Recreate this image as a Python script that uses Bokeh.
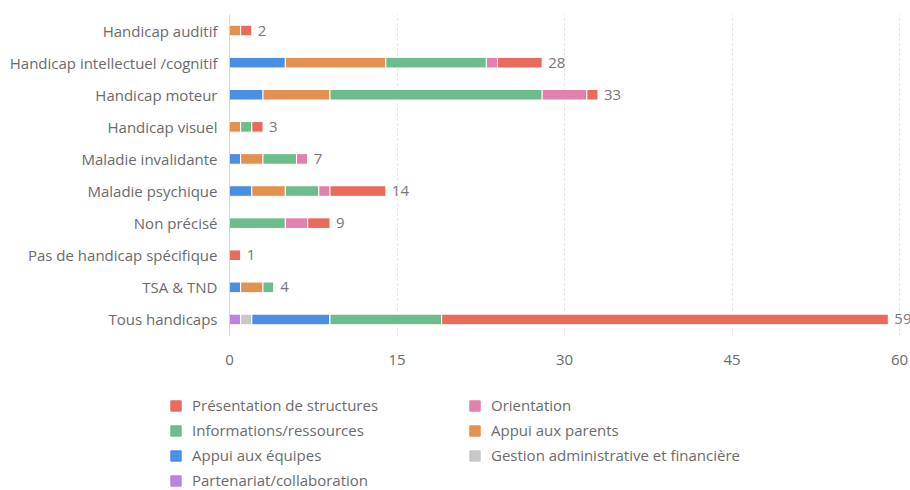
from bokeh.plotting import figure
from bokeh.layouts import column
from bokeh.models import ColumnDataSource, FactorRange, FixedTicker, Legend, LegendItem
from bokeh.core.properties import value
from bokeh.embed import file_html
from bokeh.resources import INLINE

categories = ["Handicap auditif", "Handicap intellectuel /cognitif", "Handicap moteur",
              "Handicap visuel", "Maladie invalidante", "Maladie psychique", "Non précisé",
              "Pas de handicap spécifique", "TSA & TND", "Tous handicaps"]
partenariat = [0, 0, 0, 0, 0, 0, 0, 0, 0, 1]
gestion = [0, 0, 0, 0, 0, 0, 0, 0, 0, 1]
appui_equipes = [0, 5, 3, 0, 1, 2, 0, 0, 1, 7]
appui_parents = [1, 9, 6, 1, 2, 3, 0, 0, 2, 0]
informations = [0, 9, 19, 1, 3, 3, 5, 0, 1, 10]
orientation = [0, 1, 4, 0, 1, 1, 2, 0, 0, 0]
presentation = [1, 4, 1, 1, 0, 5, 2, 1, 0, 40]
x_ticks = [0, 15, 30, 45, 60]

series_keys = ["partenariat", "gestion", "appui_equipes", "appui_parents",
               "informations", "orientation", "presentation"]
series_names = {
    "partenariat": "Partenariat/collaboration",
    "gestion": "Gestion administrative et financière",
    "appui_equipes": "Appui aux équipes",
    "appui_parents": "Appui aux parents",
    "informations": "Informations/ressources",
    "orientation": "Orientation",
    "presentation": "Présentation de structures",
}
series_colors = {
    "partenariat": "#BA84E0",
    "gestion": "#C8C8C8",
    "appui_equipes": "#4B8FE5",
    "appui_parents": "#E29150",
    "informations": "#6DBD8C",
    "orientation": "#E081AE",
    "presentation": "#E96B5E",
}

totals = [sum(v) for v in zip(partenariat, gestion, appui_equipes, appui_parents,
                               informations, orientation, presentation)]

source = ColumnDataSource(dict(
    cat=categories, partenariat=partenariat, gestion=gestion, appui_equipes=appui_equipes,
    appui_parents=appui_parents, informations=informations, orientation=orientation,
    presentation=presentation, total=totals, total_label=[str(t) for t in totals],
))

FONT = "Open Sans"
TXT = "#6b6b6b"

W = 910
LEFT = 229
GRID60 = 899
x_end = 60 * (W - LEFT) / (GRID60 - LEFT)

p = figure(width=W, height=370, output_backend="svg", toolbar_location=None,
           y_range=FactorRange(factors=list(reversed(categories)), range_padding=0),
           x_range=(0, x_end), min_border_left=LEFT, min_border_right=0,
           min_border_top=14, min_border_bottom=35)
p.outline_line_color = None
p.frame_align = False

renderers = p.hbar_stack(series_keys, y="cat", height=0.33, source=source,
                         color=[series_colors[k] for k in series_keys],
                         line_color="white", line_width=1)

p.text(x="total", y="cat", text="total_label", source=source, x_offset=6,
       text_baseline="middle", text_align="left", text_color="#777777",
       text_font=value(FONT), text_font_size="15px")

p.xaxis.ticker = FixedTicker(ticks=x_ticks)
p.xaxis.axis_line_color = None
p.xaxis.major_tick_line_color = None
p.xaxis.minor_tick_line_color = None
p.xaxis.major_label_standoff = 13
p.xaxis.major_label_text_font = FONT
p.xaxis.major_label_text_font_size = "15px"
p.xaxis.major_label_text_color = TXT

p.yaxis.axis_line_color = "#d6d6d6"
p.yaxis.major_tick_line_color = None
p.yaxis.minor_tick_line_color = None
p.yaxis.major_label_standoff = 6
p.yaxis.major_label_text_font = FONT
p.yaxis.major_label_text_font_size = "15px"
p.yaxis.major_label_text_color = TXT

p.ygrid.grid_line_color = None
p.xgrid.grid_line_color = "#dcdcdc"
p.xgrid.grid_line_dash = "2 3"

# legend panel (separate figure so the legend is not clipped by the bar frame)
pl = figure(width=W, height=120, output_backend="svg", toolbar_location=None,
            x_range=(0, 1), y_range=(0, 1), x_axis_location=None, y_axis_location=None,
            min_border=0)
pl.outline_line_color = None
pl.frame_align = False
pl.grid.visible = False
# swatch renderers sit far outside the visible range; only their legend glyphs show
swatch = {k: pl.hbar(y=[50], left=[50], right=[51], height=0.5, color=series_colors[k])
          for k in series_keys}

def make_legend(keys, loc):
    return Legend(items=[LegendItem(label=series_names[k], renderers=[swatch[k]]) for k in keys],
                  location=loc, orientation="vertical", glyph_width=13, glyph_height=13,
                  label_height=13, spacing=5, padding=0, margin=0, label_standoff=10,
                  label_text_font=FONT, label_text_font_size="15px", label_text_color=TXT,
                  background_fill_alpha=0, border_line_color=None)

pl.add_layout(make_legend(["presentation", "informations", "appui_equipes", "partenariat"], (169, 0)))
pl.add_layout(make_legend(["orientation", "appui_parents", "gestion"], (468, 25)))

layout = column(p, pl, spacing=0)
open("out.html", "w").write(file_html(layout, INLINE))
